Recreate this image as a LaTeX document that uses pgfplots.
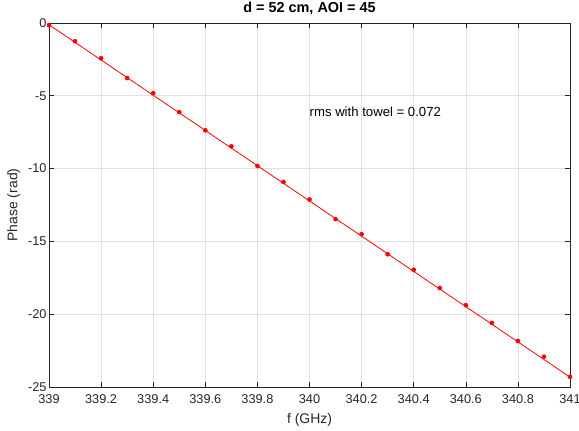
\documentclass[border=0pt]{standalone}
\usepackage{pgfplots}
\pgfplotsset{compat=1.18}
\usepackage{fontspec}
\setmainfont{Liberation Sans}
\definecolor{axgray}{RGB}{38,38,38}
\definecolor{gridgray}{RGB}{224,224,224}

\begin{document}
\begin{tikzpicture}
\begin{axis}[
  at={(0,0)}, anchor=south west,
  scale only axis,
  width=521bp, height=364bp,
  xmin=339, xmax=341, ymin=-25, ymax=0,
  xtick={339,339.2,...,341.01},
  ytick={-25,-20,...,0},
  xticklabels={339,339.2,339.4,339.6,339.8,340,340.2,340.4,340.6,340.8,341},
  /pgf/number format/assume math mode=true,
  tick label style={font=\fontsize{12.8}{14}\selectfont, color=axgray},
  xticklabel style={yshift=-4bp},
  yticklabel style={xshift=1bp},
  grid=major, major grid style={gridgray, line width=0.6pt},
  axis line style={axgray, line width=0.6pt},
  tick style={axgray, line width=0.6pt},
  tick align=inside, major tick length=5bp,
  xlabel={f (GHz)}, ylabel={Phase (rad)},
  label style={font=\fontsize{14}{16}\selectfont, color=axgray},
  xlabel style={yshift=-3bp},
  ylabel style={yshift=1bp},
  title={\textbf{d = 52 cm, AOI = 45}},
  title style={font=\fontsize{14.5}{16}\selectfont, at={(0.5,1)}, anchor=base, inner sep=0pt, yshift=5bp},
  clip=false,
]
\addplot[red, line width=0.8pt, no marks] coordinates {(339,-0.12) (341,-24.32)};
\addplot[red, only marks, mark=*, mark size=2.1pt] coordinates {
  (339.0,-0.15) (339.1,-1.25) (339.2,-2.42) (339.3,-3.78) (339.4,-4.82)
  (339.5,-6.12) (339.6,-7.37) (339.7,-8.47) (339.8,-9.82) (339.9,-10.92)
  (340.0,-12.12) (340.1,-13.47) (340.2,-14.5) (340.3,-15.88) (340.4,-16.95)
  (340.5,-18.2) (340.6,-19.38) (340.7,-20.6) (340.8,-21.84) (340.9,-22.92)
  (341.0,-24.3)
};
\node[anchor=west, inner sep=0pt, font=\fontsize{13.2}{15}\selectfont, color=black] at (axis cs:340,-6.1) {rms with towel = 0.072};
\end{axis}
\pgfresetboundingbox
\path[use as bounding box] (-49bp,-44bp) rectangle (530bp,387bp);
\end{tikzpicture}
\end{document}
